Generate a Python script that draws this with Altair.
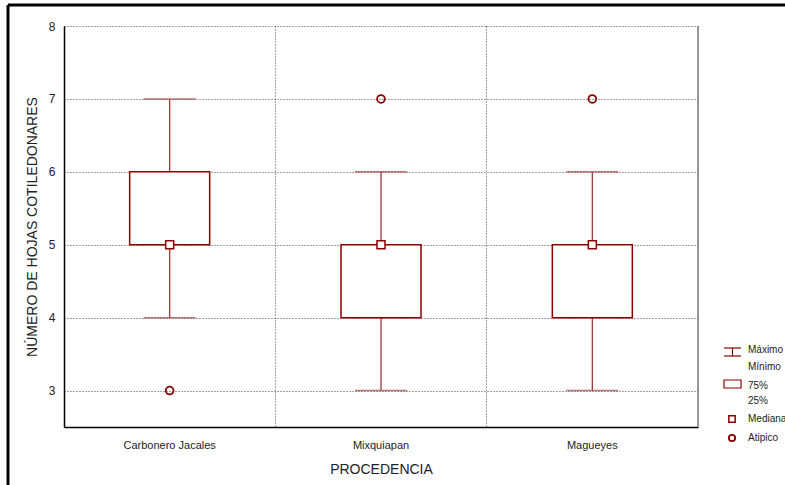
import altair as alt
import pandas as pd

# Box-plot summaries per origin
procedencia = ["Carbonero Jacales", "Mixquiapan", "Magueyes"]
minimo = [4, 3, 3]
q25 = [5, 4, 4]
mediana = [5, 5, 5]
q75 = [6, 5, 5]
maximo = [7, 6, 6]

# Outlying observations
atipico_procedencia = ["Carbonero Jacales", "Mixquiapan", "Magueyes"]
atipico_valor = [3, 7, 7]

# Legend captions
leyenda = ["Máximo", "Mínimo", "75%", "25%", "Mediana", "Atipico"]

RED = "#8B0000"
FONT = "Liberation Sans"

cajas = pd.DataFrame({
    "procedencia": procedencia, "minimo": minimo, "q25": q25,
    "mediana": mediana, "q75": q75, "maximo": maximo,
})
atipicos = pd.DataFrame({"procedencia": atipico_procedencia, "valor": atipico_valor})

x_enc = alt.X(
    "procedencia:N", sort=procedencia, title="PROCEDENCIA",
    scale=alt.Scale(paddingInner=0, paddingOuter=0),
    axis=alt.Axis(labelAngle=0, ticks=False, labelPadding=12, titlePadding=12,
                  grid=True, bandPosition=0, gridDash=[1, 2], gridColor="#444",
                  domainColor="black", domainWidth=1.5),
)
y_scale = alt.Scale(domain=[2.5, 8], nice=False, zero=False)
y_axis = alt.Axis(values=[3, 4, 5, 6, 7, 8], format="d", ticks=False, labelPadding=9,
                  gridDash=[1, 2], gridColor="#444", domainColor="black",
                  domainWidth=1.5, titlePadding=9)

base = alt.Chart(cajas)

bigotes = base.mark_rule(color="#a03a3a", strokeWidth=1.3).encode(
    x=x_enc,
    y=alt.Y("minimo:Q", scale=y_scale, axis=y_axis,
            title="NÚMERO DE HOJAS COTILEDONARES"),
    y2="maximo:Q",
)
topes_max = base.mark_tick(color="#a03a3a", size=52, thickness=1.5).encode(
    x=alt.X("procedencia:N", sort=procedencia), y="maximo:Q")
topes_min = base.mark_tick(color="#a03a3a", size=52, thickness=1.5).encode(
    x=alt.X("procedencia:N", sort=procedencia), y="minimo:Q")
caja = base.mark_bar(size=80, fill="white", stroke=RED, strokeWidth=1.5).encode(
    x=alt.X("procedencia:N", sort=procedencia), y="q25:Q", y2="q75:Q")
med = base.mark_point(shape="square", size=64, filled=True, fill="white",
                      stroke=RED, strokeWidth=1.5, opacity=1).encode(
    x=alt.X("procedencia:N", sort=procedencia), y="mediana:Q")
fuera = alt.Chart(atipicos).mark_point(shape="circle", size=60, stroke=RED,
                                       strokeWidth=1.8, opacity=1).encode(
    x=alt.X("procedencia:N", sort=procedencia), y="valor:Q")

# Decorations (frame edges, legend), positioned relative to the plot area
one = alt.Data(values=[{}])
OX, OY = 64, 26  # plot origin in the page


def rule(x1, y1, x2, y2, color, width=1.0):
    return alt.Chart(one).mark_rule(color=color, strokeWidth=width).encode(
        x=alt.value(x1 - OX), y=alt.value(y1 - OY),
        x2=alt.value(x2 - OX), y2=alt.value(y2 - OY))


marco = [
    rule(698, 26, 698, 427, "#777", 1.5),
    rule(8, 5, 785, 5, "black", 3),
    rule(8, 5, 8, 485, "black", 3),
]

leyenda_marcas = [
    rule(724, 348, 741, 348, RED, 1.2),
    rule(724, 356, 741, 356, RED, 1.2),
    rule(732.5, 348, 732.5, 356, RED, 1.2),
    alt.Chart(one).mark_rect(fill="white", stroke=RED, strokeWidth=1.2).encode(
        x=alt.value(724 - OX), x2=alt.value(741 - OX),
        y=alt.value(380 - OY), y2=alt.value(388 - OY)),
    alt.Chart(one).mark_point(shape="square", size=40, fill="white", filled=True,
                              stroke=RED, strokeWidth=1.5, opacity=1).encode(
        x=alt.value(732 - OX), y=alt.value(419 - OY)),
    alt.Chart(one).mark_point(shape="circle", size=40, stroke=RED,
                              strokeWidth=1.8, opacity=1).encode(
        x=alt.value(732 - OX), y=alt.value(438 - OY)),
]

leyenda_y = [350, 367, 386, 401, 419, 438]
leyenda_x = [748, 748, 748, 748, 748, 748]
leyenda_textos = [
    alt.Chart(one).mark_text(text=t, align="left", baseline="middle",
                             font=FONT, fontSize=10, color="#222").encode(
        x=alt.value(lx - OX), y=alt.value(ly - OY))
    for t, lx, ly in zip(leyenda, leyenda_x, leyenda_y)
]

chart = alt.layer(
    bigotes, topes_max, topes_min, caja, med, fuera,
    *marco, *leyenda_marcas, *leyenda_textos,
).properties(
    width=634, height=401,
    autosize=alt.AutoSizeParams(type="none"),
    padding={"left": OX, "top": OY, "right": 785 - OX - 634, "bottom": 485 - OY - 401},
).configure_view(stroke=None).configure_axis(
    labelFont=FONT, titleFont=FONT, labelFontSize=12, titleFontSize=14,
    titleFontWeight="normal", labelColor="#222", titleColor="#222",
).configure_axisX(labelFontSize=11)

chart.save("out.html", embed_options={"renderer": "svg", "actions": False})
